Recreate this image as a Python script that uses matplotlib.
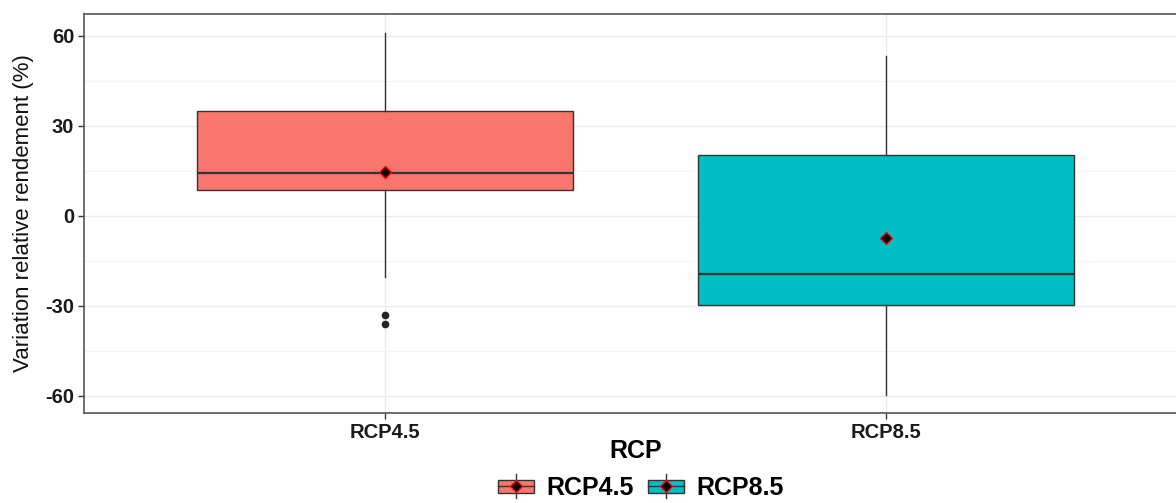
import matplotlib
matplotlib.use("Agg")
import matplotlib.pyplot as plt
from matplotlib.legend_handler import HandlerBase
from matplotlib.patches import Rectangle
from matplotlib.lines import Line2D
from matplotlib.ticker import MultipleLocator, FuncFormatter

plt.rcParams['font.family'] = ['Liberation Sans', 'DejaVu Sans']
plt.rcParams['axes.unicode_minus'] = False

# Scenario summaries (relative yield variation, %)
scenarios = ["RCP4.5", "RCP8.5"]
fill_colors = ["#F8766D", "#00BFC4"]
q1 = [8.7, -29.7]
median = [14.3, -19.3]
q3 = [35.0, 20.3]
whisker_low = [-20.3, -59.7]
whisker_high = [61.0, 53.3]
means = [14.7, -7.3]
outliers = [[-33.0, -36.0], []]
y_ticks = [-60, -30, 0, 30, 60]

fig = plt.figure(figsize=(11.76, 5.03), dpi=100)
ax = fig.add_axes([84 / 1176, 90 / 503, (1187 - 84) / 1176, (413 - 14) / 503])

stats = []
for i, name in enumerate(scenarios):
    stats.append(dict(label=name, q1=q1[i], med=median[i], q3=q3[i],
                      whislo=whisker_low[i], whishi=whisker_high[i],
                      fliers=outliers[i], mean=means[i]))

positions = list(range(1, len(scenarios) + 1))
bp = ax.bxp(stats, positions=positions, widths=0.75, patch_artist=True,
            showcaps=False, showmeans=False,
            boxprops=dict(edgecolor="#333333", linewidth=1.0),
            medianprops=dict(color="#333333", linewidth=1.6),
            whiskerprops=dict(color="#333333", linewidth=1.0),
            flierprops=dict(marker="o", markerfacecolor="#222222",
                            markeredgecolor="#222222", markersize=4.5),
            zorder=3)
for patch, c in zip(bp["boxes"], fill_colors):
    patch.set_facecolor(c)

ax.plot(positions, means, linestyle="none", marker="D", markersize=6,
        markerfacecolor="black", markeredgecolor="red", markeredgewidth=1.0,
        zorder=5)

ax.set_xlim(0.4, 2.6)
ax.set_ylim(-65.7, 67.3)
ax.set_xticks(positions)
ax.set_xticklabels(scenarios)
ax.set_yticks(y_ticks)
ax.yaxis.set_minor_locator(MultipleLocator(15))
ax.yaxis.set_major_formatter(FuncFormatter(lambda v, p: f"{v:.0f}"))

ax.grid(which="major", color="#ebebeb", linewidth=1.0, zorder=0)
ax.grid(which="minor", axis="y", color="#f4f4f4", linewidth=0.8, zorder=0)
ax.set_axisbelow(True)

for s in ["left", "top", "bottom"]:
    ax.spines[s].set_color("#555555")
    ax.spines[s].set_linewidth(1.2)
ax.spines["right"].set_visible(False)

ax.tick_params(axis="both", which="major", length=4, color="#333333",
               labelsize=14.5, labelcolor="#1a1a1a", width=1.0, pad=3)
ax.tick_params(axis="y", which="minor", length=0)
for lab in ax.get_xticklabels() + ax.get_yticklabels():
    lab.set_fontweight("bold")

ax.set_xlabel("RCP", fontsize=18, fontweight="bold", labelpad=-2)
ax.set_ylabel("Variation relative rendement (%)", fontsize=16,
              color="#111111", labelpad=8)


class BoxKeyHandler(HandlerBase):
    def __init__(self, color):
        super().__init__()
        self.color = color

    def create_artists(self, legend, orig_handle, xdescent, ydescent,
                       width, height, fontsize, trans):
        cx = width / 2 - xdescent
        cy = height / 2 - ydescent
        bw, bh = width * 0.9, height * 0.8
        vline = Line2D([cx, cx], [cy - height * 0.75, cy + height * 0.75],
                       color="#333333", linewidth=1.0, transform=trans)
        rect = Rectangle((cx - bw / 2, cy - bh / 2), bw, bh, facecolor=self.color,
                         edgecolor="#333333", linewidth=1.0, transform=trans)
        med = Line2D([cx - bw / 2, cx + bw / 2], [cy, cy], color="#333333",
                     linewidth=1.0, transform=trans)
        dot = Line2D([cx], [cy], marker="D", markersize=6, markerfacecolor="black",
                     markeredgecolor="red", linestyle="none", transform=trans)
        return [vline, rect, med, dot]


handles = [Rectangle((0, 0), 1, 1) for _ in scenarios]
handler_map = {h: BoxKeyHandler(c) for h, c in zip(handles, fill_colors)}
leg = fig.legend(handles, scenarios, handler_map=handler_map, loc="center",
                 bbox_to_anchor=(640 / 1176, 1 - 488 / 503), ncol=2, frameon=False,
                 prop=dict(weight="bold", size=18), handlelength=1.6,
                 handleheight=0.6, columnspacing=0.5, handletextpad=0.4,
                 borderpad=0.1)

fig.savefig("out.png", dpi=100, facecolor="white")
